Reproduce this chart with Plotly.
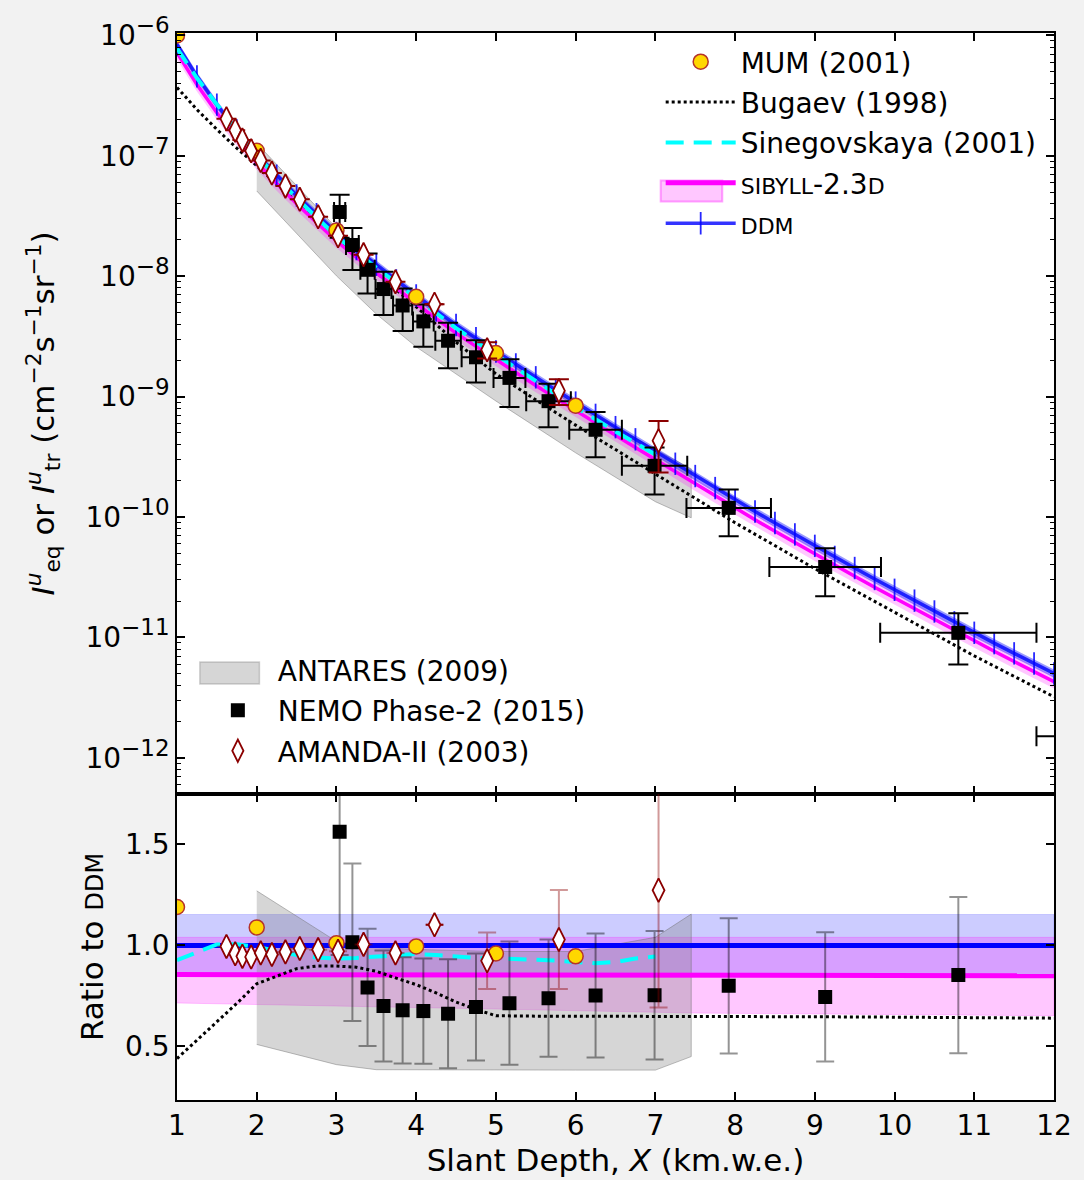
import numpy as np
import plotly.graph_objects as go

# ---------------- data ----------------
depth_grid = [1.0, 1.25, 1.5, 1.75, 2.0, 2.25, 2.5, 2.75, 3.0, 3.25, 3.5, 3.75, 4.0, 4.25, 4.5,
              4.75, 5.0, 5.25, 5.5, 5.75, 6.0, 6.25, 6.5, 6.75, 7.0, 7.25, 7.5, 7.75, 8.0, 8.25,
              8.5, 8.75, 9.0, 9.25, 9.5, 9.75, 10.0, 10.25, 10.5, 10.75, 11.0, 11.25, 11.5, 11.75, 12.0]
ddm_log10 = [-6.075, -6.34, -6.575, -6.79, -6.99, -7.165, -7.33, -7.485, -7.64, -7.775, -7.905,
             -8.035, -8.16, -8.285, -8.405, -8.515, -8.625, -8.733, -8.84, -8.945, -9.05, -9.152,
             -9.254, -9.355, -9.456, -9.558, -9.66, -9.76, -9.86, -9.955, -10.05, -10.145, -10.24,
             -10.332, -10.424, -10.515, -10.605, -10.695, -10.785, -10.875, -10.962, -11.048,
             -11.133, -11.217, -11.30]
sibyll_log10 = [-6.143, -6.408, -6.643, -6.858, -7.058, -7.233, -7.398, -7.553, -7.708, -7.843,
                -7.973, -8.103, -8.228, -8.353, -8.473, -8.583, -8.693, -8.801, -8.908, -9.013,
                -9.118, -9.22, -9.322, -9.423, -9.524, -9.626, -9.728, -9.828, -9.928, -10.023,
                -10.118, -10.213, -10.308, -10.4, -10.492, -10.583, -10.673, -10.763, -10.853,
                -10.943, -11.03, -11.116, -11.201, -11.285, -11.368]
# relative widths of the model bands in the upper panel
ddm_band_rel_top = [0.92, 1.08]
sibyll_band_rel_top = [0.75, 0.95]

# ratio panel: model lines and bands
ratio_line_x = [1.0, 12.0]
ddm_ratio_line = [1.0, 1.0]
sibyll_ratio_line = [0.856, 0.85]
ddm_band_x = [1.0, 12.0]
ddm_band_low = [0.85, 0.85]
ddm_band_up = [1.153, 1.153]
sib_band_x = [1.0, 3.0, 5.0, 7.5, 12.0]
sib_band_low = [0.715, 0.70, 0.685, 0.665, 0.652]
sib_band_up = [1.04, 1.04, 1.04, 1.04, 1.04]

# Bugaev (1998)
bug_x = [1.0, 1.25, 1.5, 1.75, 2.0, 2.25, 2.5, 2.75, 3.0, 3.25, 3.5, 3.75, 4.0, 4.25, 4.5, 4.75,
         5.0, 5.5, 6.0, 7.0, 8.0, 9.0, 10.0, 11.0, 12.0]
bug_log10 = [-6.432, -6.616, -6.781, -6.937, -7.082, -7.237, -7.383, -7.532, -7.687, -7.825,
             -7.965, -8.112, -8.254, -8.401, -8.548, -8.681, -8.811, -9.027, -9.237, -9.643,
             -10.048, -10.429, -10.795, -11.154, -11.494]
bug_ratio = [0.44, 0.53, 0.622, 0.713, 0.81, 0.848, 0.885, 0.898, 0.898, 0.892, 0.872, 0.838,
             0.806, 0.765, 0.72, 0.683, 0.652, 0.65, 0.65, 0.65, 0.648, 0.647, 0.645, 0.643, 0.64]

# Sinegovskaya (2001)
sin_x = [1.0, 1.25, 1.5, 1.75, 2.0, 2.25, 2.5, 2.75, 3.0, 3.25, 3.5, 3.75, 4.0, 4.25, 4.5, 4.75,
         5.0, 5.25, 5.5, 5.75, 6.0, 6.25, 6.5, 6.75, 7.0]
sin_log10 = [-6.108, -6.354, -6.573, -6.787, -6.993, -7.177, -7.351, -7.512, -7.669, -7.803,
             -7.930, -8.056, -8.179, -8.306, -8.431, -8.543, -8.654, -8.763, -8.872, -8.979,
             -9.087, -9.192, -9.291, -9.384, -9.481]
sin_ratio = [0.927, 0.968, 1.005, 1.006, 0.993, 0.972, 0.953, 0.94, 0.935, 0.938, 0.945, 0.952,
             0.958, 0.952, 0.943, 0.938, 0.936, 0.934, 0.93, 0.925, 0.918, 0.912, 0.918, 0.935, 0.945]

# ANTARES (2009) band
ant_x = [2.0, 3.0, 3.5, 4.0, 5.0, 6.0, 7.0, 7.45]
ant_log10_up = [-6.896, -7.60, -7.904, -8.179, -8.633, -9.063, -9.439, -9.60]
ant_log10_low = [-7.292, -7.997, -8.3145, -8.587, -9.037, -9.467, -9.873, -10.007]
ant_ratio_up = [1.27, 1.02, 0.99, 0.98, 0.97, 0.97, 1.04, 1.155]
ant_ratio_low = [0.51, 0.41, 0.385, 0.383, 0.383, 0.383, 0.383, 0.45]

# MUM (2001)
mum_x = [1.0, 2.0, 3.0, 4.0, 5.0, 6.0]
mum_flux = [1.0e-6, 1.1e-7, 2.4e-8, 6.75e-9, 2.3e-9, 8.4e-10]
mum_ratio = [1.19, 1.089, 1.011, 0.995, 0.96, 0.946]

# AMANDA-II (2003)
ama_x = [1.62, 1.73, 1.82, 1.93, 2.05, 2.19, 2.36, 2.54, 2.77, 3.02, 3.34, 3.74, 4.23, 4.89, 5.79, 7.04]
ama_x_err = [0.04, 0.04, 0.04, 0.04, 0.04, 0.04, 0.04, 0.04, 0.04, 0.04, 0.04, 0.04, 0.11, 0.04, 0.04, 0.04]
ama_flux = [2.03e-7, 1.63e-7, 1.35e-7, 1.10e-7, 9.16e-8, 7.19e-8, 5.6e-8, 4.35e-8, 3.12e-8,
            2.17e-8, 1.51e-8, 8.99e-9, 5.85e-9, 2.45e-9, 1.12e-9, 4.30e-10]
ama_flux_err = [0, 0, 0, 0, 0, 0, 0, 0, 0, 0, 0, 0, 0, 3.8e-10, 2.7e-10, 1.96e-10]
ama_ratio = [0.995, 0.959, 0.946, 0.943, 0.963, 0.955, 0.968, 0.985, 0.979, 0.971, 1.005, 0.963,
             1.102, 0.924, 1.029, 1.273]
ama_ratio_err = [0, 0, 0, 0, 0, 0, 0, 0, 0, 0, 0, 0, 0, 0.14, 0.245, 0.58]

# NEMO Phase-2 (2015)
nemo_x = [3.04, 3.20, 3.39, 3.59, 3.83, 4.09, 4.40, 4.75, 5.17, 5.66, 6.25, 6.99, 7.92, 9.13, 10.80, 13.10]
nemo_x_err = [0.07, 0.08, 0.09, 0.10, 0.12, 0.13, 0.16, 0.18, 0.20, 0.28, 0.33, 0.41, 0.53, 0.70, 0.98, 1.32]
nemo_flux = [3.42e-8, 1.82e-8, 1.13e-8, 7.82e-9, 5.71e-9, 4.21e-9, 2.91e-9, 2.12e-9, 1.43e-9,
             9.16e-10, 5.30e-10, 2.66e-10, 1.19e-10, 3.84e-11, 1.09e-11, 1.51e-12]
nemo_flux_err = [1.33e-8, 6.97e-9, 4.12e-9, 3.07e-9, 2.21e-9, 1.62e-9, 1.19e-9, 8.1e-10, 6.1e-10,
                 3.6e-10, 2.16e-10, 1.12e-10, 5.0e-11, 1.65e-11, 4.95e-12, 7e-13]
nemo_ratio_x = [3.04, 3.20, 3.39, 3.59, 3.83, 4.09, 4.40, 4.75, 5.17, 5.66, 6.25, 6.99, 7.92, 9.13, 10.80]
nemo_ratio = [1.563, 1.016, 0.792, 0.700, 0.679, 0.675, 0.662, 0.695, 0.714, 0.739, 0.752, 0.753,
              0.80, 0.745, 0.853]
nemo_ratio_err = [0.61, 0.39, 0.29, 0.275, 0.263, 0.26, 0.27, 0.265, 0.305, 0.29, 0.307, 0.318,
                  0.335, 0.32, 0.387]

x_ticks = [1, 2, 3, 4, 5, 6, 7, 8, 9, 10, 11, 12]
flux_tick_exponents = [-12, -11, -10, -9, -8, -7, -6]
ratio_ticks = [0.5, 1.0, 1.5]
ratio_tick_text = ["0.5", "1.0", "1.5"]

# ---------------- styling ----------------
FONT = "DejaVu Sans"
SC = "<span style='font-size:22px'>"
names = {
    "mum": "MUM (2001)",
    "bug": "Bugaev (1998)",
    "sin": "Sinegovskaya (2001)",
    "sib": SC + "SIBYLL</span>-2.3" + SC + "D</span>",
    "ddm": SC + "DDM</span>",
    "ant": "ANTARES (2009)",
    "nemo": "NEMO Phase-2 (2015)",
    "ama": "AMANDA-II (2003)",
}

ddm_flux = 10 ** np.array(ddm_log10)
sib_flux = 10 ** np.array(sibyll_log10)
grid = list(depth_grid)
grid_rev = grid[::-1]

flux_tickvals = [10.0 ** e for e in flux_tick_exponents]
flux_ticktext = ["10<sup><span style='font-size:23px'>−%d</span></sup>" % (-e) for e in flux_tick_exponents]
flux_minor = [m * 10.0 ** e for e in range(-13, -5) for m in range(2, 10)]

fig = go.Figure()
T = dict(xaxis="x", yaxis="y")
B = dict(xaxis="x2", yaxis="y2")

# ---------- upper panel ----------
fig.add_trace(go.Scatter(x=ant_x + ant_x[::-1],
                         y=list(10 ** np.array(ant_log10_up)) + list(10 ** np.array(ant_log10_low))[::-1],
                         fill="toself", fillcolor="rgba(128,128,128,0.32)",
                         line=dict(color="rgba(110,110,110,0.45)", width=1), mode="lines",
                         showlegend=False, hoverinfo="skip", **T))
fig.add_trace(go.Scatter(x=grid + grid_rev,
                         y=list(ddm_flux * sibyll_band_rel_top[1]) + list(ddm_flux * sibyll_band_rel_top[0])[::-1],
                         fill="toself", fillcolor="rgba(255,0,255,0.22)", line=dict(width=0),
                         mode="lines", showlegend=False, hoverinfo="skip", **T))
fig.add_trace(go.Scatter(x=grid + grid_rev,
                         y=list(ddm_flux * ddm_band_rel_top[1]) + list(ddm_flux * ddm_band_rel_top[0])[::-1],
                         fill="toself", fillcolor="rgba(0,0,255,0.4)", line=dict(width=0),
                         mode="lines", showlegend=False, hoverinfo="skip", **T))
fig.add_trace(go.Scatter(x=bug_x, y=10 ** np.array(bug_log10), mode="lines",
                         line=dict(color="black", width=3, dash="dot"),
                         name=names["bug"], legend="legend", legendrank=2, legendgroup="bug", **T))
fig.add_trace(go.Scatter(x=grid, y=sib_flux, mode="lines",
                         line=dict(color="#ff00ff", width=3.5), showlegend=False, **T))
fig.add_trace(go.Scatter(x=grid, y=ddm_flux, mode="lines+markers",
                         line=dict(color="rgba(0,0,255,0.8)", width=3.5),
                         marker=dict(symbol="line-ns", size=16,
                                     line=dict(color="rgba(0,0,255,0.85)", width=1.8)),
                         name=names["ddm"], legend="legend", legendrank=5, legendgroup="ddm", **T))
fig.add_trace(go.Scatter(x=sin_x, y=10 ** np.array(sin_log10), mode="lines",
                         line=dict(color="#00ffff", width=4, dash="18px,10px"),
                         name=names["sin"], legend="legend", legendrank=3, legendgroup="sin", **T))
# legend-only entries (their box symbols are completed by shapes below)
fig.add_trace(go.Scatter(x=[None], y=[None], mode="lines",
                         line=dict(color="#ff00ff", width=5),
                         name=names["sib"], legend="legend", legendrank=4, legendgroup="sib", **T))
fig.add_trace(go.Scatter(x=[None], y=[None], mode="lines",
                         line=dict(color="rgba(0,0,0,0)", width=1),
                         name=names["ant"], legend="legend2", legendrank=1, legendgroup="ant", **T))
fig.add_trace(go.Scatter(x=nemo_x, y=nemo_flux, mode="markers",
                         marker=dict(symbol="square", size=14, color="black"),
                         error_y=dict(type="data", array=nemo_flux_err, color="black", thickness=2, width=10),
                         error_x=dict(type="data", array=nemo_x_err, color="black", thickness=2, width=10),
                         name=names["nemo"], legend="legend2", legendrank=2, legendgroup="nemo", **T))
fig.add_trace(go.Scatter(x=mum_x, y=mum_flux, mode="markers",
                         marker=dict(symbol="circle", size=15, color="#ffd700",
                                     line=dict(color="#b5332a", width=1.5)),
                         name=names["mum"], legend="legend", legendrank=1, legendgroup="mum", **T))
fig.add_trace(go.Scatter(x=ama_x, y=ama_flux, mode="markers",
                         marker=dict(symbol="diamond-tall", size=17, color="white",
                                     line=dict(color="#8b0000", width=1.8)),
                         error_y=dict(type="data", array=ama_flux_err, color="#8b0000", thickness=2, width=10),
                         error_x=dict(type="data", array=ama_x_err, color="#8b0000", thickness=2, width=0),
                         name=names["ama"], legend="legend2", legendrank=3, legendgroup="ama", **T))

# ---------- ratio panel ----------
fig.add_trace(go.Scatter(x=ddm_band_x + ddm_band_x[::-1], y=ddm_band_up + ddm_band_low[::-1],
                         fill="toself", fillcolor="rgba(0,0,255,0.2)",
                         line=dict(color="rgba(0,0,255,0.15)", width=1), mode="lines",
                         showlegend=False, hoverinfo="skip", **B))
fig.add_trace(go.Scatter(x=sib_band_x + sib_band_x[::-1], y=sib_band_up + sib_band_low[::-1],
                         fill="toself", fillcolor="rgba(255,0,255,0.22)",
                         line=dict(color="rgba(255,0,255,0.2)", width=1), mode="lines",
                         showlegend=False, hoverinfo="skip", **B))
fig.add_trace(go.Scatter(x=ant_x + ant_x[::-1], y=ant_ratio_up + ant_ratio_low[::-1],
                         fill="toself", fillcolor="rgba(128,128,128,0.32)",
                         line=dict(color="rgba(110,110,110,0.45)", width=1), mode="lines",
                         showlegend=False, hoverinfo="skip", **B))
fig.add_trace(go.Scatter(x=ratio_line_x, y=ddm_ratio_line, mode="lines",
                         line=dict(color="#0000ff", width=5), showlegend=False, **B))
fig.add_trace(go.Scatter(x=ratio_line_x, y=sibyll_ratio_line, mode="lines",
                         line=dict(color="#ff00ff", width=5), showlegend=False, **B))
fig.add_trace(go.Scatter(x=bug_x, y=bug_ratio, mode="lines",
                         line=dict(color="black", width=3, dash="dot"), showlegend=False, **B))
fig.add_trace(go.Scatter(x=sin_x, y=sin_ratio, mode="lines",
                         line=dict(color="#00ffff", width=4, dash="18px,10px"), showlegend=False, **B))
fig.add_trace(go.Scatter(x=nemo_ratio_x, y=nemo_ratio, mode="markers",
                         marker=dict(symbol="square", size=14, color="black"),
                         error_y=dict(type="data", array=nemo_ratio_err, color="rgba(0,0,0,0.42)",
                                      thickness=2, width=9),
                         showlegend=False, **B))
fig.add_trace(go.Scatter(x=mum_x, y=mum_ratio, mode="markers",
                         marker=dict(symbol="circle", size=15, color="#ffd700",
                                     line=dict(color="#b5332a", width=1.5)),
                         showlegend=False, **B))
fig.add_trace(go.Scatter(x=ama_x, y=ama_ratio, mode="markers",
                         marker=dict(symbol="diamond-tall", size=17, color="white",
                                     line=dict(color="#8b0000", width=1.8)),
                         error_y=dict(type="data", array=ama_ratio_err, color="rgba(139,0,0,0.4)",
                                      thickness=2, width=9),
                         error_x=dict(type="data", array=ama_x_err, color="#8b0000", thickness=2, width=0),
                         showlegend=False, **B))

# ---------------- layout ----------------
W, H = 1084, 1180
ML, MR, MT, MB = 177, 24, 23, 80
PW, PH = W - ML - MR, H - MT - MB


def px_x(p):
    return (p - ML) / PW


def px_y(p):
    return 1 - (p - MT) / PH


split = 309 / PH
axis_common = dict(showline=True, linecolor="black", linewidth=1.5, mirror="allticks",
                   ticks="inside", ticklen=8, tickwidth=1.5, tickcolor="black",
                   showgrid=False, zeroline=False,
                   tickfont=dict(family=FONT, size=28, color="black"))

legend_boxes = [
    # SIBYLL band box in legend 1
    dict(type="rect", xref="paper", yref="paper", x0=px_x(664), x1=px_x(726), y0=px_y(193), y1=px_y(172),
         fillcolor="rgba(255,0,255,0.22)", line=dict(color="rgba(255,0,255,0.35)", width=2), layer="above"),
    # ANTARES box in legend 2
    dict(type="rect", xref="paper", yref="paper", x0=px_x(200), x1=px_x(260), y0=px_y(680), y1=px_y(658),
         fillcolor="rgba(128,128,128,0.32)", line=dict(color="rgba(110,110,110,0.3)", width=1.5), layer="above"),
]

TITLE_FONT = dict(family=FONT, size=31, color="black")
fig.update_layout(
    width=W, height=H,
    margin=dict(l=ML, r=MR, t=MT, b=MB),
    paper_bgcolor="#f2f2f2", plot_bgcolor="white",
    font=dict(family=FONT, size=28, color="black"),
    shapes=legend_boxes,
    xaxis=dict(domain=[0, 1], anchor="y", range=[1, 12], tickvals=x_ticks,
               showticklabels=False, matches="x2", **axis_common),
    xaxis2=dict(domain=[0, 1], anchor="y2", range=[1, 12], tickvals=x_ticks,
                title=dict(text="Slant Depth, <i>X</i> (km.w.e.)", font=TITLE_FONT, standoff=2),
                **axis_common),
    yaxis=dict(domain=[split, 1], anchor="x", type="log", range=[-12.3, -5.98],
               tickvals=flux_tickvals, ticktext=flux_ticktext,
               minor=dict(tickvals=flux_minor, ticks="inside", ticklen=4, tickwidth=1,
                          tickcolor="black", showgrid=False),
               title=dict(text="<i>I</i><sup><i>u</i></sup><sub>eq</sub> or "
                               "<i>I</i><sup><i>u</i></sup><sub>tr</sub> "
                               "(cm<sup>−2</sup>s<sup>−1</sup>sr<sup>−1</sup>)",
                          font=TITLE_FONT, standoff=22),
               **axis_common),
    yaxis2=dict(domain=[0, split], anchor="x2", range=[0.235, 1.75],
                tickvals=ratio_ticks, ticktext=ratio_tick_text,
                title=dict(text="Ratio to <span style='font-size:24px'>DDM</span>",
                           font=TITLE_FONT, standoff=12),
                **axis_common),
    legend=dict(x=px_x(664), y=px_y(27), xanchor="left", yanchor="top", bgcolor="rgba(0,0,0,0)",
                font=dict(family=FONT, size=28, color="black"), itemwidth=70,
                traceorder="grouped", tracegroupgap=1),
    legend2=dict(x=px_x(198), y=px_y(641), xanchor="left", yanchor="top", bgcolor="rgba(0,0,0,0)",
                 font=dict(family=FONT, size=28, color="black"), itemwidth=70,
                 traceorder="grouped", tracegroupgap=1),
)

fig.write_html("out.html", include_plotlyjs=True, config={"displayModeBar": False},
               post_script="document.body.style.margin='0px';document.body.style.overflow='hidden';")
